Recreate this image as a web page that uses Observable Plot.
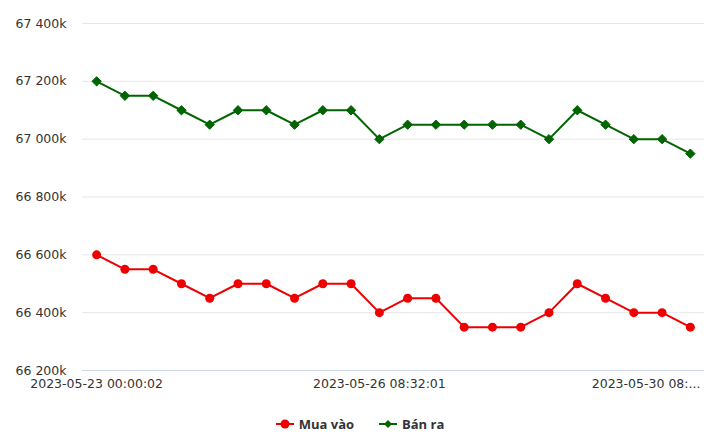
<!DOCTYPE html>
<html>
<head>
<meta charset="utf-8">
<script src="https://cdn.jsdelivr.net/npm/d3@7"></script>
<script src="https://cdn.jsdelivr.net/npm/@observablehq/plot@0.6"></script>
<style>
  html, body { margin: 0; padding: 0; background: #fff; }
  #chart { width: 720px; }
  .legend { display: flex; justify-content: center; align-items: center; height: 45px; font: bold 13px "Open Sans", sans-serif; color: #333; gap: 25px; padding-top: 1px; }
  .item { display: flex; align-items: center; gap: 5px; }
</style>
</head>
<body>
<div id="chart"></div>
<script>
// Data (values in thousands)
const seriesNames = ["Mua vào", "Bán ra"];
const muaVao = [66600, 66550, 66550, 66500, 66450, 66500, 66500, 66450, 66500, 66500, 66400, 66450, 66450, 66350, 66350, 66350, 66400, 66500, 66450, 66400, 66400, 66350];
const banRa  = [67200, 67150, 67150, 67100, 67050, 67100, 67100, 67050, 67100, 67100, 67000, 67050, 67050, 67050, 67050, 67050, 67000, 67100, 67050, 67000, 67000, 66950];
const tickIndices = [0, 10, 20];
const tickLabels = ["2023-05-23 00:00:02", "2023-05-26 08:32:01", "2023-05-30 08:..."];
const yTicks = [66200, 66400, 66600, 66800, 67000, 67200, 67400];
const colors = ["#ee0000", "#006400"];

const idx = d3.range(muaVao.length);
const rows = [];
idx.forEach(i => rows.push({i, v: muaVao[i], s: seriesNames[0]}));
idx.forEach(i => rows.push({i, v: banRa[i], s: seriesNames[1]}));
const buy = rows.filter(d => d.s === seriesNames[0]);
const sell = rows.filter(d => d.s === seriesNames[1]);

const fmt = d3.formatLocale({decimal: ".", thousands: " ", grouping: [3], currency: ["", ""]}).format(",");
const labelOf = i => tickLabels[tickIndices.indexOf(i)];

const plot = Plot.plot({
  width: 720,
  height: 400,
  marginTop: 23,
  marginBottom: 30,
  marginLeft: 82,
  marginRight: 16,
  style: {fontFamily: "'DejaVu Sans', sans-serif", fontSize: "12.5px", color: "#333", background: "#fff"},
  x: {type: "point", domain: idx, padding: 0.5, round: false, label: null},
  y: {domain: [66200, 67400], label: null},
  marks: [
    Plot.gridY(yTicks.slice(1), {stroke: "#e6e6e6", strokeOpacity: 1}),
    Plot.ruleY([66200], {stroke: "#ccd6eb"}),
    Plot.axisY(yTicks, {tickSize: 0, tickPadding: 16, tickFormat: d => fmt(d) + "k", label: null, fill: "#333"}),
    Plot.axisX(tickIndices.slice(0, 2), {tickSize: 0, tickPadding: 9, tickFormat: labelOf, label: null, fill: "#333"}),
    Plot.axisX(tickIndices.slice(2), {tickSize: 0, tickPadding: 9, tickFormat: labelOf, label: null, fill: "#333", dx: -16}),
    Plot.line(buy, {x: "i", y: "v", stroke: colors[0], strokeWidth: 2}),
    Plot.line(sell, {x: "i", y: "v", stroke: colors[1], strokeWidth: 2}),
    Plot.dot(buy, {x: "i", y: "v", fill: colors[0], r: 4.5, symbol: "circle"}),
    Plot.dot(sell, {x: "i", y: "v", fill: colors[1], stroke: colors[1], strokeWidth: 1, r: 4.2, symbol: "diamond2"})
  ]
});
document.getElementById("chart").appendChild(plot);

const legend = document.createElement("div");
legend.className = "legend";
seriesNames.forEach((name, k) => {
  const item = document.createElement("div");
  item.className = "item";
  const marker = k === 0
    ? `<circle cx="9" cy="6" r="4.5" fill="${colors[k]}"/>`
    : `<path d="M9,2 L13,6 L9,10 L5,6 Z" fill="${colors[k]}"/>`;
  item.innerHTML = `<svg width="18" height="12"><line x1="0" x2="18" y1="6" y2="6" stroke="${colors[k]}" stroke-width="2"/>${marker}</svg><span>${name}</span>`;
  legend.appendChild(item);
});
document.getElementById("chart").appendChild(legend);
</script>
</body>
</html>
